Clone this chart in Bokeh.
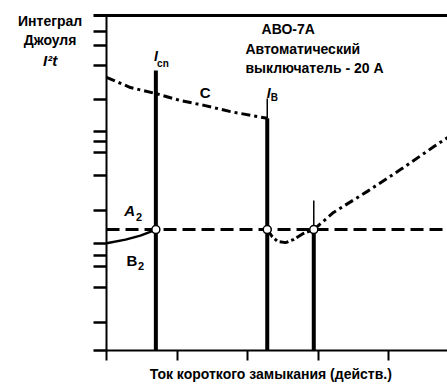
from bokeh.plotting import figure
from bokeh.models import Range1d, FixedTicker, Label, CustomJSTickFormatter
from bokeh.embed import file_html
from bokeh.resources import INLINE

# ---- data (relative units) ----
x_ticks = [0, 1, 2, 3, 4]
y_ticks = [100, 95.2, 91.0, 85.1, 74.9, 65.4, 62.4, 59.1, 52.2, 41.8,
           31.9, 28.4, 25.1, 18.8, 8.4, 0]

# curve C (upper, dash-dot)
c_x = [0.0, 0.34, 0.70, 1.05, 1.40, 1.76, 2.28]
c_y = [81.5, 78.5, 76.7, 74.6, 73.1, 71.3, 69.3]

# curve B2 (lower left, solid)
b_x = [0.0, 0.27, 0.48, 0.62, 0.70]
b_y = [32.0, 33.1, 34.3, 35.4, 36.1]

# dip and rising branch (dash-dot)
d_x = [2.28, 2.35, 2.43, 2.54, 2.65, 2.79, 2.94]
d_y = [36.1, 34.0, 32.5, 32.2, 33.1, 34.9, 36.1]
r_x = [2.94, 3.22, 3.70, 4.17, 4.64, 4.84]
r_y = [36.1, 41.2, 47.5, 54.0, 60.8, 63.6]

# A2 level
a2_level = 36.1

# vertical current lines
v_x = [0.70, 2.28, 2.94]
v_thick_top = [83.6, 69.3, 36.1]
v_thin_top = [83.6, 75.2, 44.8]

x_min, x_max = -1.504, 4.837
y_min, y_max = -10.45, 104.48
x_top_start = -0.18   # top border starts with the tick length

p = figure(width=447, height=385, output_backend="svg", toolbar_location=None,
           x_range=Range1d(x_min, x_max), y_range=Range1d(y_min, y_max),
           min_border_left=0, min_border_right=0, min_border_top=0,
           min_border_bottom=0)
p.outline_line_color = None
p.grid.visible = False
p.background_fill_color = "white"
p.border_fill_color = "white"

blank = CustomJSTickFormatter(code="return ''")

# axes fixed at the data origin
p.xaxis.fixed_location = 0
p.xaxis.bounds = (0, x_max)
p.xaxis.ticker = FixedTicker(ticks=x_ticks)
p.xaxis.formatter = blank
p.xaxis.major_tick_out = 10
p.xaxis.major_tick_in = 0
p.xaxis.major_tick_line_width = 2
p.xaxis.axis_line_width = 2
p.xaxis.minor_tick_line_color = None

p.yaxis.fixed_location = 0
p.yaxis.bounds = (0, 100)
p.yaxis.ticker = FixedTicker(ticks=y_ticks)
p.yaxis.formatter = blank
p.yaxis.major_tick_out = 13
p.yaxis.major_tick_in = 0
p.yaxis.major_tick_line_width = 2.5
p.yaxis.axis_line_width = 2
p.yaxis.minor_tick_line_color = None

# top border line
p.segment(x0=[x_top_start], y0=[100], x1=[x_max], y1=[100], line_color="black", line_width=3)

# A2 dashed horizontal
p.segment(x0=[0], y0=[a2_level], x1=[x_max], y1=[a2_level], line_color="black",
          line_width=3, line_dash="13 6")

# curves
p.line(c_x, c_y, line_color="black", line_width=3, line_dash="9 4 3 4")
p.line(b_x, b_y, line_color="black", line_width=2.5)
p.line(d_x, d_y, line_color="black", line_width=3, line_dash="9 3 3 3")
p.line(r_x, r_y, line_color="black", line_width=3, line_dash="9 4 3 4")

# vertical lines
p.segment(x0=v_x, y0=[0] * 3, x1=v_x, y1=v_thick_top, line_color="black", line_width=4)
p.segment(x0=v_x, y0=v_thick_top, x1=v_x, y1=v_thin_top, line_color="black", line_width=1.5)

# intersection circles
p.scatter(v_x, [a2_level] * 3, size=8, fill_color="white", line_color="black", line_width=1.5)

FONT = "Liberation Sans"

def lab(x, y, t, size="13px", style="bold", align="center"):
    p.add_layout(Label(x=x, y=y, text=t, text_font=FONT, text_font_size=size,
                       text_font_style=style, text_align=align,
                       text_baseline="middle", text_color="black"))

# title text
lab(2.20, 96.1, "АВО-7А", "14px", align="left")
lab(1.97, 90.1, "Автоматический", "14px", align="left")
lab(1.97, 84.2, "выключатель - 20 А", "14px", align="left")

# curve labels
lab(1.40, 77.0, "C", "15px")
lab(0.33, 41.8, "A", "15px", "bold italic")
lab(0.46, 39.9, "2", "11px")
lab(0.36, 27.0, "B", "15px")
lab(0.49, 25.1, "2", "11px")

# current labels
lab(0.70, 87.8, "I", "14px", "bold italic")
lab(0.80, 85.8, "cn", "10px")
lab(2.30, 77.0, "I", "14px", "bold italic")
lab(2.38, 75.5, "B", "10px")

# y-axis caption
lab(-0.80, 98.3, "Интеграл", "14px")
lab(-0.80, 92.8, "Джоуля", "14px")
lab(-0.80, 86.5, "I²t", "15px", "bold italic")

# x-axis caption
lab(2.33, -7.0, "Ток короткого замыкания (действ.)", "14px")

open("out.html", "w").write(file_html(p, INLINE))
